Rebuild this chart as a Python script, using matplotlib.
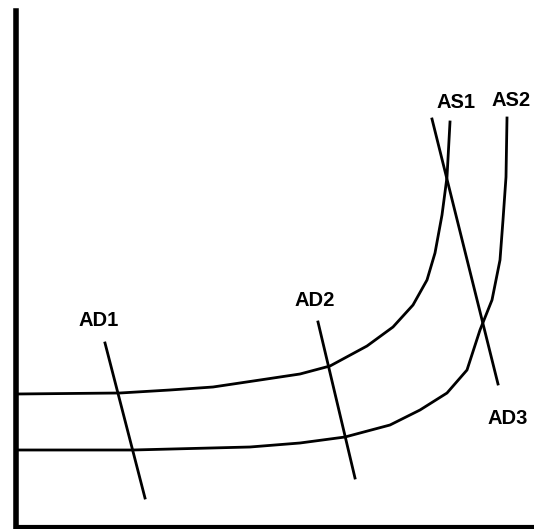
import matplotlib.pyplot as plt

# AS / AD diagram, coordinates (origin at the axes corner)
as1_x = [0, 104, 154, 197, 244, 284, 314, 351, 377, 397, 411, 419, 426, 431, 434]
as1_y = [133, 134, 137, 140, 147, 153, 161, 181, 200, 222, 247, 274, 312, 350, 405]

as2_x = [0, 117, 234, 284, 329, 374, 404, 431, 451, 464, 476, 484, 487, 490, 491]
as2_y = [77, 77, 80, 84, 90, 102, 117, 134, 157, 197, 227, 267, 307, 350, 409]

ad1_x = [89, 129]
ad1_y = [184, 29]
ad2_x = [302, 339]
ad2_y = [205, 49]
ad3_x = [416, 482]
ad3_y = [408, 143]

labels = ["AD1", "AD2", "AS1", "AS2", "AD3"]
label_x = [83, 299, 440, 495, 492]
label_y = [206, 227, 424, 427, 109]

fig = plt.figure(figsize=(5.34, 5.29), dpi=100)
ax = fig.add_axes([16 / 534, 2 / 529, 518 / 534, 516 / 529])

lw = 2.0
ax.plot(as1_x, as1_y, color="black", lw=lw)
ax.plot(as2_x, as2_y, color="black", lw=lw)
for xs, ys in [(ad1_x, ad1_y), (ad2_x, ad2_y), (ad3_x, ad3_y)]:
    ax.plot(xs, ys, color="black", lw=lw)

for t, x, y in zip(labels, label_x, label_y):
    ax.text(x, y, t, ha="center", va="center", fontsize=14.5,
            fontweight="bold", family="Liberation Sans")

ax.set_xlim(0, 518)
ax.set_ylim(0, 516)
ax.set_xticks([])
ax.set_yticks([])
ax.spines["top"].set_visible(False)
ax.spines["right"].set_visible(False)
ax.spines["left"].set_linewidth(4.0)
ax.spines["bottom"].set_linewidth(3.0)

fig.savefig("out.png", dpi=100)
